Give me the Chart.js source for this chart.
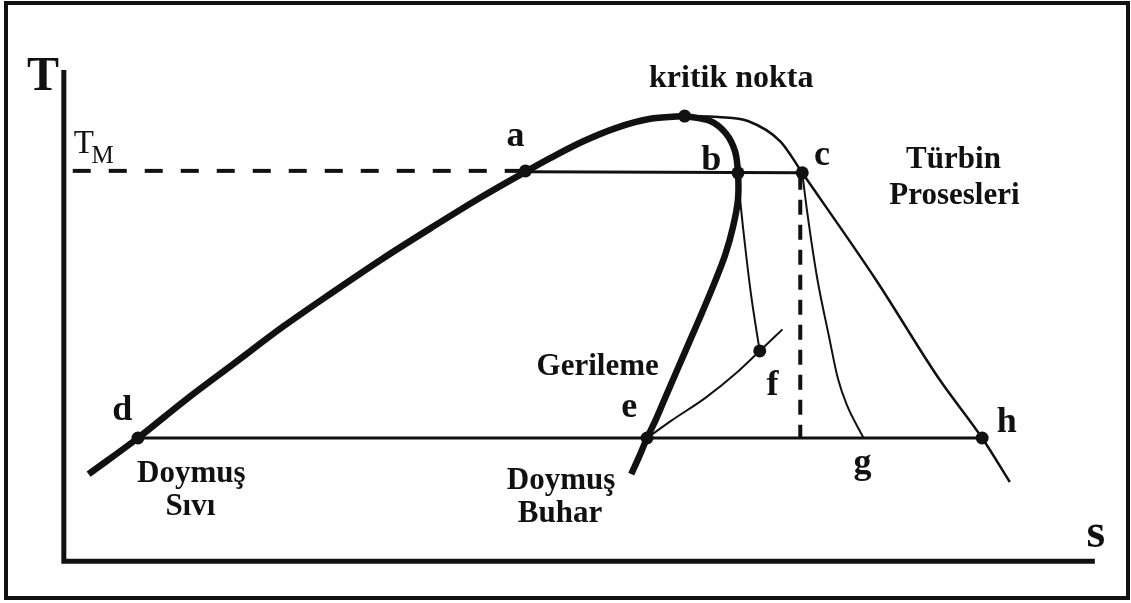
<!DOCTYPE html>
<html>
<head>
<meta charset="utf-8">
<script src="https://cdn.jsdelivr.net/npm/chart.js@4.4.1/dist/chart.umd.min.js"></script>
<style>
  html, body { margin: 0; padding: 0; background: #fff; }
  #wrap { width: 1131px; height: 603px; }
</style>
</head>
<body>
<div id="wrap"><canvas id="grafico-ts" width="1131" height="603"></canvas></div>
<script>
// T-s diyagrami (entropi s yatay, sicaklik T dusey; T ekseni asagi dogru buyuyen piksel olcegi)

// doymus sivi egrisi (kalin)
const sivi_s = [83, 133, 180, 230, 280, 330, 380, 430, 480, 525, 550, 583, 617, 650, 686];
const sivi_T = [478, 441, 403, 365, 327, 292, 258, 226, 195, 169, 155, 138, 124, 115, 112];

// doymus buhar egrisi (kalin, geri donen)
const buhar_s = [686, 712, 728, 737, 740, 740, 735, 727, 716, 704, 692, 680, 668, 657, 648, 640, 632];
const buhar_T = [112, 117, 130, 148, 170, 197, 225, 254, 283, 312, 340, 368, 396, 422, 441, 460, 478];

// ince egri: kritik nokta -> c -> h
const ince_s = [686, 720, 750, 783, 805, 880, 943, 987, 1015];
const ince_T = [112, 113, 117, 138, 170, 280, 380, 441, 486];

// b -> f turbin prosesi
const bf_s = [740, 742, 747, 753, 758, 762];
const bf_T = [170, 195, 243, 293, 327, 352];

// e -> f gerileme cizgisi
const ef_s = [648, 673, 707, 740, 762, 785];
const ef_T = [441, 423, 400, 373, 352, 330];

// c -> g turbin prosesi
const cg_s = [805, 810, 820, 832, 841, 850, 867];
const cg_T = [170, 210, 277, 337, 380, 407, 441];

// sabit sicaklik cizgileri
const tm_s = [67, 525];          // T_M kesikli
const tm_T = [168, 168];
const ac_s = [525, 805];         // a - c
const ac_T = [169, 170];
const dh_s = [133, 987];         // d - h
const dh_T = [441, 441];
const cDik_s = [803, 803];       // c'den asagi kesikli
const cDik_T = [172, 441];

// eksenler
const eksen_s = [58, 58, 1101];
const eksen_T = [65, 567, 567];

// noktalar: kritik, a, b, c, d, e, f, h
const nokta_s = [686, 525, 740, 805, 133, 648, 762, 987];
const nokta_T = [112, 168, 170, 170, 441, 441, 352, 441];

function pts(xs, ys) {
  return xs.map((x, i) => ({ x: x, y: ys[i] }));
}

// egri: 'm' = monotone (s'e gore), sayi = tension, 0 = duz
function cizgi(xs, ys, w, egri, dash) {
  const ds = {
    data: pts(xs, ys),
    showLine: true,
    borderColor: '#111',
    backgroundColor: '#111',
    borderWidth: w,
    pointRadius: 0,
    borderDash: dash || [],
    borderCapStyle: 'butt',
    order: 1
  };
  if (egri === 'm') {
    ds.cubicInterpolationMode = 'monotone';
  } else {
    ds.tension = egri;
  }
  return ds;
}

// yazilar (veri koordinatinda)
const yazilar = [
  { t: 'kritik nokta', x: 650, y: 82, size: 32, align: 'left' },
  { t: 'a', x: 515, y: 143, size: 36 },
  { t: 'b', x: 713, y: 167, size: 36 },
  { t: 'c', x: 825, y: 162, size: 36 },
  { t: 'Türbin', x: 958, y: 165, size: 31 },
  { t: 'Prosesleri', x: 959, y: 202, size: 31 },
  { t: 'T', x: 37, y: 85, size: 48 },
  { t: 'T', x: 68, y: 150, size: 33, align: 'left', bold: false },
  { t: 'M', x: 86, y: 160, size: 25, align: 'left', bold: false },
  { t: 'd', x: 117, y: 423, size: 36 },
  { t: 'Doymuş', x: 187, y: 486, size: 31 },
  { t: 'Sıvı', x: 186, y: 520, size: 31 },
  { t: 'Gerileme', x: 598, y: 377, size: 31 },
  { t: 'e', x: 630, y: 420, size: 36 },
  { t: 'f', x: 775, y: 397, size: 36 },
  { t: 'Doymuş', x: 561, y: 493, size: 31 },
  { t: 'Buhar', x: 560, y: 527, size: 31 },
  { t: 'g', x: 866, y: 477, size: 36 },
  { t: 'h', x: 1012, y: 435, size: 36 },
  { t: 's', x: 1102, y: 552, size: 48 }
];

const yaziPlugin = {
  id: 'yazilar',
  beforeDraw(chart) {
    const c = chart.ctx;
    c.save();
    c.fillStyle = '#fff';
    c.fillRect(0, 0, chart.width, chart.height);
    c.strokeStyle = '#111';
    c.lineWidth = 4;
    c.strokeRect(6, 3, 1122, 595);
    c.restore();
  },
  afterDatasetsDraw(chart) {
    const c = chart.ctx;
    const sx = chart.scales.x, sy = chart.scales.y;
    c.save();
    c.fillStyle = '#111';
    c.textBaseline = 'alphabetic';
    yazilar.forEach(l => {
      c.font = (l.bold === false ? '' : 'bold ') + l.size + 'px "Liberation Serif", "Times New Roman", serif';
      c.textAlign = l.align || 'center';
      c.fillText(l.t, sx.getPixelForValue(l.x), sy.getPixelForValue(l.y));
    });
    c.restore();
  }
};

const ctx = document.getElementById('grafico-ts');
new Chart(ctx, {
  type: 'scatter',
  data: {
    datasets: [
      {
        data: pts(nokta_s, nokta_T),
        pointRadius: 6.5,
        pointBackgroundColor: '#111',
        pointBorderWidth: 0,
        showLine: false,
        order: 0
      },
      cizgi(sivi_s, sivi_T, 6.5, 'm'),
      cizgi(buhar_s, buhar_T, 6.5, 0.3),
      cizgi(ince_s, ince_T, 2.5, 'm'),
      cizgi(bf_s, bf_T, 2, 'm'),
      cizgi(ef_s, ef_T, 2, 'm'),
      cizgi(cg_s, cg_T, 2, 'm'),
      cizgi(tm_s, tm_T, 4, 0, [18, 18]),
      cizgi(ac_s, ac_T, 3, 0),
      cizgi(dh_s, dh_T, 3, 0),
      cizgi(cDik_s, cDik_T, 4, 0, [15, 10]),
      cizgi(eksen_s, eksen_T, 5, 0)
    ]
  },
  options: {
    responsive: false,
    animation: false,
    layout: { padding: 0 },
    plugins: {
      legend: { display: false },
      tooltip: { enabled: false }
    },
    scales: {
      x: { type: 'linear', min: 0, max: 1131, display: false },
      y: { type: 'linear', min: 0, max: 603, reverse: true, display: false }
    }
  },
  plugins: [yaziPlugin]
});
</script>
</body>
</html>
